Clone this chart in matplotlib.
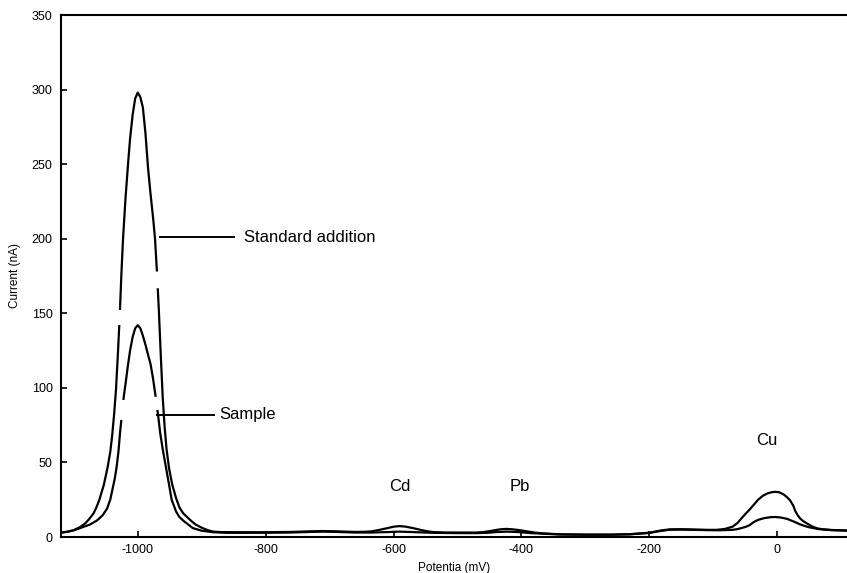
import numpy as np
import matplotlib
matplotlib.use('Agg')
import matplotlib.pyplot as plt
from matplotlib.ticker import FuncFormatter

plt.rcParams['font.family'] = ['Liberation Sans', 'DejaVu Sans']

##########
# Data
##########

# Standard addition curve (potential in mV, current in nA)
std_x = [-1120, -1110, -1100, -1090, -1082, -1076, -1069, -1065, -1060, -1053, -1047,
         -1043, -1040, -1037, -1034, -1031, -1028, -1025.5, -1023, -1019, -1015, -1012, -1008,
         -1004, -1000, -996, -992, -988, -984, -980, -976, -973, -970, -967, -964, -961,
         -958, -955, -951, -946, -940, -935, -929, -918, -910, -900, -890, -882, -870,
         -840, -800, -760, -730, -710, -690, -660, -645, -634, -622, -610, -600, -591,
         -582, -570, -558, -548, -538, -520, -490, -470, -460, -450, -440, -430, -423,
         -415, -405, -390, -378, -366, -340, -300, -260, -230, -200, -190, -180, -168,
         -150, -130, -110, -95, -82, -70, -62, -55, -48, -43, -36, -30, -22, -15, -8,
         -3, 3, 10, 15, 20, 25, 28, 32, 36, 41, 46, 54, 62, 72, 85, 109]
std_y = [3.0, 3.5, 4.6, 6.7, 9.2, 12, 15.9, 19.5, 25, 35, 47,
         57, 68, 82, 99, 123, 150, 177, 200, 228, 251, 267, 283,
         294, 298, 295, 288, 271, 248, 230, 214, 200, 178, 152, 122, 94,
         74, 59, 46, 35, 26, 20, 15.9, 11.4, 8.5, 6.2, 4.5, 3.6, 3.3,
         3.2, 3.2, 3.4, 3.8, 4.0, 3.8, 3.4, 3.5, 3.8, 4.8, 5.9, 6.9, 7.3,
         7.0, 6.0, 4.8, 3.9, 3.3, 3.0, 3.0, 3.0, 3.3, 3.9, 4.7, 5.3, 5.4,
         5.2, 4.7, 3.7, 2.9, 2.4, 1.8, 1.6, 1.6, 1.9, 2.9, 3.7, 4.5, 5.1,
         5.2, 5.0, 4.8, 4.8, 5.4, 6.9, 9.5, 13, 16.3, 18.5, 22, 25, 27.8, 29.3, 30.1,
         30.3, 30.0, 28.5, 26.8, 24.6, 21, 17.5, 14.5, 12.3, 10.5, 9.2, 7.2, 5.8, 5.1, 4.7, 4.3]

# Sample curve
smp_x = [-1120, -1110, -1100, -1090, -1075, -1064, -1055, -1048, -1043, -1040, -1036,
         -1033, -1030, -1027.7, -1025, -1022.5, -1019, -1016, -1012, -1008, -1004, -1000,
         -996, -992, -988, -985, -980, -976, -972, -968, -965, -961, -956, -951, -947, -940,
         -935, -929, -920, -914, -900, -882, -860, -820, -760, -730, -710, -690, -660,
         -634, -610, -591, -570, -538, -500, -470, -454, -440, -423, -405, -385, -366,
         -340, -300, -260, -230, -200, -190, -180, -168, -150, -130, -110, -95, -82,
         -70, -62, -57, -50, -43, -37, -30, -20, -10, -3, 5, 15, 25, 35, 42, 50, 65,
         85, 109]
smp_y = [3.0, 3.5, 4.5, 6.0, 8.3, 11, 14.5, 19, 25, 31, 39,
         47, 58, 70, 81, 92, 103, 113, 125, 134, 140, 142,
         140, 135, 129, 124, 116, 106, 94, 81, 70, 59, 47, 35, 25, 17,
         13.5, 11, 8, 6.0, 4.2, 3.2, 2.8, 2.8, 3.0, 3.4, 3.6, 3.4, 3.0,
         3.0, 3.3, 3.6, 3.3, 2.8, 2.6, 2.6, 2.8, 3.3, 3.6, 3.3, 2.6, 2.2,
         1.7, 1.5, 1.5, 1.8, 2.7, 3.5, 4.2, 4.9, 5.0, 4.8, 4.6, 4.5, 4.6,
         4.8, 5.3, 5.9, 6.7, 8.0, 10.0, 11.5, 12.7, 13.3, 13.4, 13.1, 12.2, 10.5, 8.6, 7.5, 6.5, 5.3,
         4.6, 4.3]

# White breaks in the flanks of the main peak: (curve, flank, current from, current to)
breaks = [('std', 'left', 142.2, 152.2), ('std', 'right', 166.8, 178.0),
          ('smp', 'left', 78.5, 91.9), ('smp', 'right', 85.2, 94.0)]

##########
# Plot
##########

fig = plt.figure(figsize=(8.47, 5.73), dpi=100)
ax = fig.add_axes([61 / 847, 1 - 537 / 573, 1 - 61 / 847, (537 - 15) / 573])

ax.plot(std_x, std_y, color='black', lw=1.6, solid_joinstyle='round')
ax.plot(smp_x, smp_y, color='black', lw=1.6, solid_joinstyle='round')

curves = {'std': (np.array(std_x), np.array(std_y)), 'smp': (np.array(smp_x), np.array(smp_y))}
for name, side, y1, y2 in breaks:
    cx, cy = curves[name]
    top = np.argmax(cy)
    if side == 'left':
        fx, fy = cx[:top + 1], cy[:top + 1]
    else:
        fx, fy = cx[top:][::-1], cy[top:][::-1]
    yy = np.linspace(y1, y2, 10)
    ax.plot(np.interp(yy, fy, fx), yy, color='white', lw=3.4, solid_capstyle='butt', zorder=3)

# leader lines and labels
ax.plot([-965, -849], [201, 201], color='black', lw=1.4)
ax.text(-834, 201, 'Standard addition', fontsize=12, va='center', ha='left')
ax.plot([-970, -881], [82, 82], color='black', lw=1.4)
ax.text(-873, 82, 'Sample', fontsize=12, va='center', ha='left')

ax.text(-591, 34, 'Cd', fontsize=12, ha='center', va='center')
ax.text(-403, 34, 'Pb', fontsize=12, ha='center', va='center')
ax.text(-17, 65, 'Cu', fontsize=12, ha='center', va='center')

ax.set_xlim(-1120, 109)
ax.set_ylim(0, 350)
ax.set_xticks([-1000, -800, -600, -400, -200, 0])
ax.set_yticks([0, 50, 100, 150, 200, 250, 300, 350])
ax.xaxis.set_major_formatter(FuncFormatter(lambda v, p: '%d' % v))
ax.tick_params(direction='in', length=4, width=1.2, labelsize=9, pad=5)
ax.tick_params(axis='y', pad=6)

ax.spines['right'].set_visible(False)
for s in ['left', 'top', 'bottom']:
    ax.spines[s].set_linewidth(1.5)

ax.set_xlabel('Potentia (mV)', fontsize=8.5, labelpad=4)
ax.set_ylabel('Current (nA)', fontsize=8.5, labelpad=8)

fig.savefig('out.png', dpi=100)
